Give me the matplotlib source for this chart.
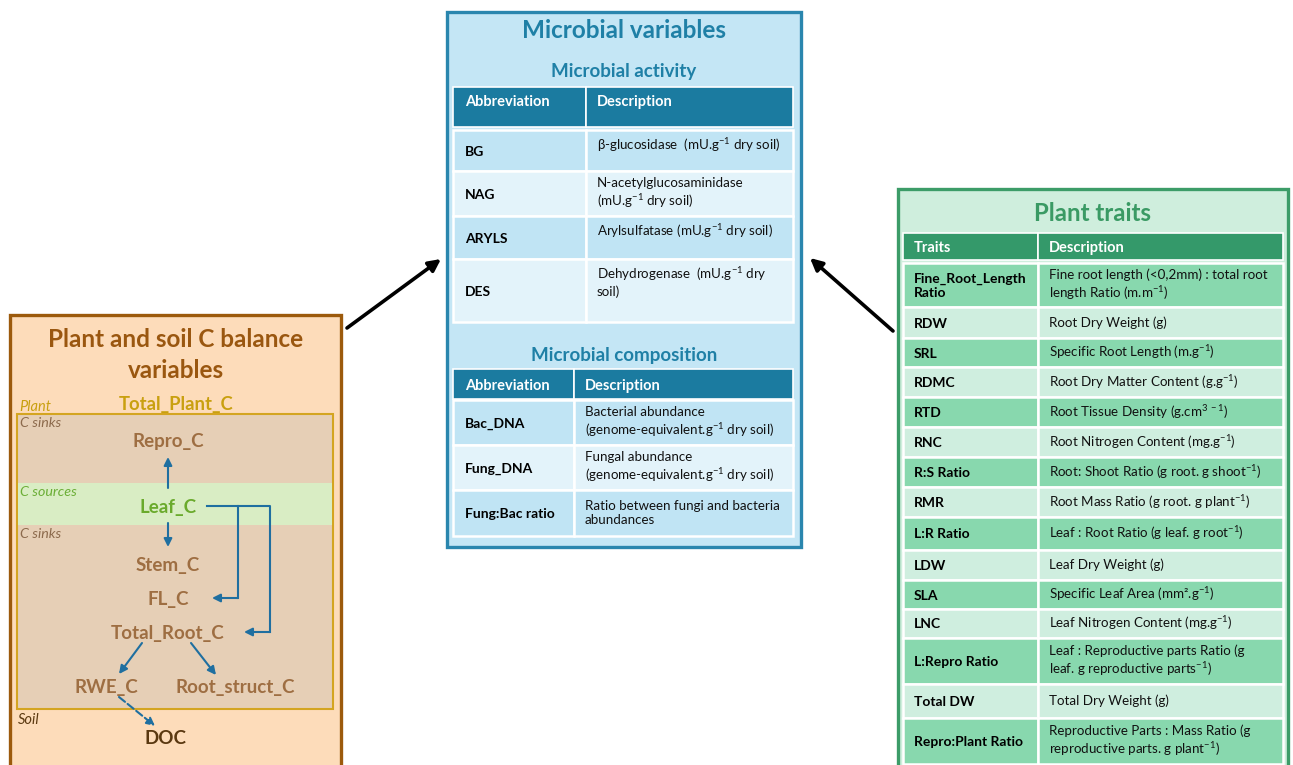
import matplotlib
matplotlib.use('Agg')
import matplotlib.pyplot as plt
from matplotlib.patches import Rectangle

plt.rcParams['font.family'] = ['Lato', 'DejaVu Sans']
plt.rcParams['mathtext.fontset'] = 'custom'
plt.rcParams['mathtext.rm'] = 'Lato'
plt.rcParams['mathtext.it'] = 'Lato:italic'
plt.rcParams['mathtext.bf'] = 'Lato:bold'

# ---------------- data ----------------
activity_abbr = ['BG', 'NAG', 'ARYLS', 'DES']
activity_desc = ['β-glucosidase  (mU.g$^{-1}$ dry soil)',
                 'N-acetylglucosaminidase\n(mU.g$^{-1}$ dry soil)',
                 'Arylsulfatase (mU.g$^{-1}$ dry soil)',
                 'Dehydrogenase  (mU.g$^{-1}$ dry\nsoil)']
composition_abbr = ['Bac_DNA', 'Fung_DNA', 'Fung:Bac ratio']
composition_desc = ['Bacterial abundance\n(genome-equivalent.g$^{-1}$ dry soil)',
                    'Fungal abundance\n(genome-equivalent.g$^{-1}$ dry soil)',
                    'Ratio between fungi and bacteria\nabundances']
trait_names = ['Fine_Root_Length\nRatio', 'RDW', 'SRL', 'RDMC', 'RTD', 'RNC',
               'R:S Ratio', 'RMR', 'L:R Ratio', 'LDW', 'SLA', 'LNC',
               'L:Repro Ratio', 'Total DW', 'Repro:Plant Ratio']
trait_desc = ['Fine root length (<0,2mm) : total root\nlength Ratio (m.m$^{-1}$)',
              'Root Dry Weight (g)',
              'Specific Root Length (m.g$^{-1}$)',
              'Root Dry Matter Content (g.g$^{-1}$)',
              'Root Tissue Density (g.cm$^{3\\ -1}$)',
              'Root Nitrogen Content (mg.g$^{-1}$)',
              'Root: Shoot Ratio (g root. g shoot$^{-1}$)',
              'Root Mass Ratio (g root. g plant$^{-1}$)',
              'Leaf : Root Ratio (g leaf. g root$^{-1}$)',
              'Leaf Dry Weight (g)',
              'Specific Leaf Area (mm².g$^{-1}$)',
              'Leaf Nitrogen Content (mg.g$^{-1}$)',
              'Leaf : Reproductive parts Ratio (g\nleaf. g reproductive parts$^{-1}$)',
              'Total Dry Weight (g)',
              'Reproductive Parts : Mass Ratio (g\nreproductive parts. g plant$^{-1}$)']
node_names = ['Repro_C', 'Leaf_C', 'Stem_C', 'FL_C', 'Total_Root_C',
              'RWE_C', 'Root_struct_C', 'DOC']

# ---------------- layout ----------------
W, H = 1293, 765
fig = plt.figure(figsize=(W / 100, H / 100), dpi=100)
ax = fig.add_axes([0, 0, 1, 1])
ax.set_xlim(0, W)
ax.set_ylim(H, 0)
ax.axis('off')

BODY = 9.6
BOLD = 10
HEAD = 10.5


def rect(x0, y0, x1, y1, fc, ec='none', lw=0, z=1):
    ax.add_patch(Rectangle((x0, y0), x1 - x0, y1 - y0, facecolor=fc,
                           edgecolor=ec, linewidth=lw, zorder=z))


def txt(x, y, s, size=BODY, color='black', weight='normal', ha='left',
        va='center', style='normal', ls=1.25):
    ax.text(x, y, s, fontsize=size, color=color, fontweight=weight, ha=ha,
            va=va, style=style, linespacing=ls, zorder=5)


# ======== Left box: plant & soil C balance ========
brown_border = '#9C5A0C'
rect(10, 315, 341, 780, '#FDDCBA', brown_border, 2.4)
txt(176, 339, 'Plant and soil C balance', 17.5, '#9A5710', 'bold', 'center')
txt(176, 370, 'variables', 17.5, '#9A5710', 'bold', 'center')
gold = '#C9A010'
txt(176, 404, 'Total_Plant_C', 13.3, gold, 'bold', 'center')
txt(19, 407, 'Plant', 10.5, gold, style='italic')
rect(17, 414, 333, 709, '#E6CFB6', '#D4A521', 1.5, z=2)
rect(18, 483, 332, 525, '#D9EDC4', z=2.5)
sink_col = '#8C6A4C'
txt(20, 423, 'C sinks', 10.3, sink_col, style='italic')
txt(20, 492, 'C sources', 10.3, '#6BAE36', style='italic')
txt(20, 534, 'C sinks', 10.3, sink_col, style='italic')
txt(18, 720, 'Soil', 10.5, '#5C3A12', style='italic')

node_col = '#9E6E42'
node_pos = [(168, 441), (168, 507), (168, 566), (168, 600), (168, 633),
            (106, 688), (235, 688), (166, 739)]
node_colors = [node_col, '#6AAA2C', node_col, node_col, node_col,
               node_col, node_col, '#5A3810']
for name, (x, y), c in zip(node_names, node_pos, node_colors):
    txt(x, y, name, 13.5, c, 'bold', 'center')

blue = '#1F6FA0'
aprops = dict(arrowstyle='-|>', color=blue, lw=1.5, mutation_scale=12,
              shrinkA=0, shrinkB=0)


def arrow(x0, y0, x1, y1, props=aprops):
    ax.annotate('', xy=(x1, y1), xytext=(x0, y0), arrowprops=props, zorder=6)


arrow(168, 488, 168, 457)
arrow(168, 523, 168, 547)
ax.plot([207, 270, 270], [506, 506, 632], color=blue, lw=1.5, zorder=6)
ax.plot([238, 238], [506, 598], color=blue, lw=1.5, zorder=6)
arrow(238, 598, 212, 598)
arrow(270, 632, 244, 632)
arrow(142, 643, 119, 674)
arrow(191, 643, 216, 675)
ax.annotate('', xy=(155, 726), xytext=(119, 697),
            arrowprops=dict(arrowstyle='-|>', color=blue, lw=1.5,
                            mutation_scale=12, shrinkA=0, shrinkB=0,
                            linestyle='--'), zorder=6)

# black connecting arrows
kprops = dict(arrowstyle='-|>', color='black', lw=2.6, mutation_scale=18,
              shrinkA=0, shrinkB=0)
ax.annotate('', xy=(441, 259), xytext=(347, 328), arrowprops=kprops)
ax.annotate('', xy=(810, 258), xytext=(893, 331), arrowprops=kprops)

# ======== Middle box: microbial variables ========
mb = '#2A86AE'
rect(447, 12, 801, 547, '#C4E6F5', mb, 2.4)
title_blue = '#1F80A6'
txt(624, 30, 'Microbial variables', 17.5, title_blue, 'bold', 'center')
txt(624, 71, 'Microbial activity', 13.5, title_blue, 'bold', 'center')
txt(624, 355, 'Microbial composition', 13.5, title_blue, 'bold', 'center')

head_blue = '#1B7BA0'
row_a = '#C0E4F4'
row_b = '#E3F3FA'

# table 1
t1x = (453, 586, 793)
rect(t1x[0], 87, t1x[1], 127, head_blue, 'white', 1.2, 2)
rect(t1x[1], 87, t1x[2], 127, head_blue, 'white', 1.2, 2)
txt(465, 102, 'Abbreviation', HEAD, 'white', 'bold')
txt(597, 102, 'Description', HEAD, 'white', 'bold')
t1rows = [(130, 171), (171, 216), (216, 259), (259, 322)]
for i, ((y0, y1), a, d) in enumerate(zip(t1rows, activity_abbr, activity_desc)):
    fc = row_a if i % 2 == 0 else row_b
    rect(t1x[0], y0, t1x[1], y1, fc, 'white', 1.8, 2)
    rect(t1x[1], y0, t1x[2], y1, fc, 'white', 1.8, 2)
    txt(465, (y0 + y1) / 2 + 1, a, BOLD, 'black', 'bold')
    txt(597, y0 + 6, d, BODY, '#111111', va='top')

# table 2
t2x = (453, 574, 793)
rect(t2x[0], 369, t2x[1], 399, head_blue, 'white', 1.2, 2)
rect(t2x[1], 369, t2x[2], 399, head_blue, 'white', 1.2, 2)
txt(465, 386, 'Abbreviation', HEAD, 'white', 'bold')
txt(585, 386, 'Description', HEAD, 'white', 'bold')
t2rows = [(400, 445), (445, 490), (490, 536)]
for i, ((y0, y1), a, d) in enumerate(zip(t2rows, composition_abbr, composition_desc)):
    fc = row_a if i % 2 == 0 else row_b
    rect(t2x[0], y0, t2x[1], y1, fc, 'white', 1.8, 2)
    rect(t2x[1], y0, t2x[2], y1, fc, 'white', 1.8, 2)
    txt(465, (y0 + y1) / 2 + 1, a, BOLD, 'black', 'bold')
    txt(585, (y0 + y1) / 2, d, BODY, '#111111')

# ======== Right box: plant traits ========
gb = '#3C9C68'
rect(898, 189, 1288, 790, '#CFEEDD', gb, 2.4)
txt(1093, 213, 'Plant traits', 17.3, '#3A9A64', 'bold', 'center')
tx = (903, 1038, 1283)
head_green = '#34996A'
rect(tx[0], 233, tx[1], 260, head_green, 'white', 1.2, 2)
rect(tx[1], 233, tx[2], 260, head_green, 'white', 1.2, 2)
txt(914, 248, 'Traits', HEAD, 'white', 'bold')
txt(1049, 248, 'Description', HEAD, 'white', 'bold')
edges = [263, 307, 338, 367, 397, 427, 457, 487, 517, 550, 580, 609,
         638, 684, 718, 764]
dark_g = '#88D8AE'
light_g = '#CFEEDF'
for i, (n, d) in enumerate(zip(trait_names, trait_desc)):
    y0, y1 = edges[i], edges[i + 1]
    fc = dark_g if i % 2 == 0 else light_g
    rect(tx[0], y0, tx[1], y1, fc, 'white', 1.8, 2)
    rect(tx[1], y0, tx[2], y1, fc, 'white', 1.8, 2)
    txt(914, (y0 + y1) / 2 + 1, n, BOLD, 'black', 'bold')
    txt(1049, (y0 + y1) / 2, d, BODY, '#111111')

fig.savefig('out.png', dpi=100, facecolor='white')
